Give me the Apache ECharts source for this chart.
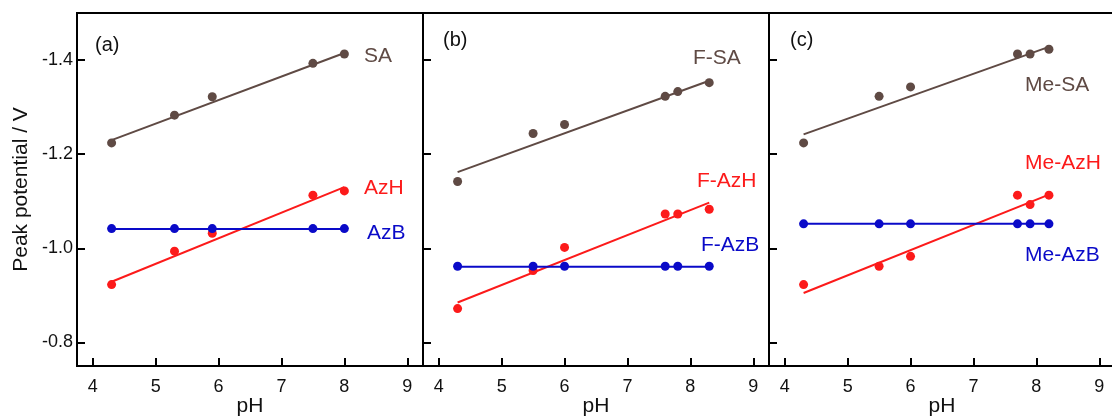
<!DOCTYPE html>
<html>
<head>
<meta charset="utf-8">
<script src="https://cdn.jsdelivr.net/npm/echarts@6/dist/echarts.min.js"></script>
<style>
  html, body { margin: 0; background: #fff; }
  #main { width: 1112px; height: 419px; }
</style>
</head>
<body>
<div id="main"></div>
<script>
// tick labels
const phTicks = [4, 5, 6, 7, 8, 9];
const potTicks = [-1.4, -1.2, -1.0, -0.8];

// (a) SA / AzH / AzB
const phA = [4.3, 5.3, 5.9, 7.5, 8.0];
const saA = [-1.224, -1.283, -1.322, -1.393, -1.413];
const azhA = [-0.923, -0.994, -1.032, -1.113, -1.122];
const azbA = [-1.042, -1.042, -1.042, -1.042, -1.042];
const fitPhA = [4.3, 8.0];
const saFitA = [-1.230, -1.415];
const azhFitA = [-0.929, -1.130];
const azbFitA = [-1.041, -1.041];

// (b) F-SA / F-AzH / F-AzB
const phB = [4.3, 5.5, 6.0, 7.6, 7.8, 8.3];
const saB = [-1.142, -1.244, -1.263, -1.323, -1.333, -1.352];
const azhB = [-0.872, -0.953, -1.002, -1.073, -1.073, -1.083];
const azbB = [-0.962, -0.962, -0.962, -0.962, -0.962, -0.962];
const fitPhB = [4.3, 8.3];
const saFitB = [-1.162, -1.356];
const azhFitB = [-0.885, -1.097];
const azbFitB = [-0.961, -0.961];

// (c) Me-SA / Me-AzH / Me-AzB
const phC = [4.3, 5.5, 6.0, 7.7, 7.9, 8.2];
const saC = [-1.224, -1.323, -1.343, -1.413, -1.413, -1.423];
const azhC = [-0.923, -0.962, -0.983, -1.113, -1.093, -1.113];
const azbC = [-1.052, -1.052, -1.052, -1.052, -1.052, -1.052];
const fitPhC = [4.3, 8.2];
const saFitC = [-1.242, -1.428];
const azhFitC = [-0.905, -1.114];
const azbFitC = [-1.052, -1.052];

const panelNames = ['(a)', '(b)', '(c)'];
const seriesNames = [
  ['SA', 'AzH', 'AzB'],
  ['F-SA', 'F-AzH', 'F-AzB'],
  ['Me-SA', 'Me-AzH', 'Me-AzB']
];

const FONT = '"Liberation Sans", Arial, sans-serif';
const BROWN = '#5f4a44', RED = '#fc1a1a', BLUE = '#0a0ac8';
const colors = [BROWN, RED, BLUE];

const panels = [
  { ph: phA, ys: [saA, azhA, azbA], fitPh: fitPhA, fits: [saFitA, azhFitA, azbFitA] },
  { ph: phB, ys: [saB, azhB, azbB], fitPh: fitPhB, fits: [saFitB, azhFitB, azbFitB] },
  { ph: phC, ys: [saC, azhC, azbC], fitPh: fitPhC, fits: [saFitC, azhFitC, azbFitC] }
];

const lefts = [77, 423, 769];
const zip = (xs, ys) => xs.map((x, i) => [x, ys[i]]);

const grid = lefts.map(l => ({
  left: l, top: 13, width: 346, height: 353,
  outerBoundsMode: 'none',
  show: true, borderColor: '#000', borderWidth: 2
}));

const xAxis = lefts.map((l, i) => ({
  type: 'value', gridIndex: i, min: 3.75, max: 9.25,
  axisLine: { lineStyle: { color: '#000', width: 2 } },
  axisTick: { inside: true, length: 8, customValues: phTicks, lineStyle: { color: '#000', width: 2 } },
  axisLabel: { customValues: phTicks, color: '#111', fontSize: 18, fontFamily: FONT, margin: 12 },
  splitLine: { show: false },
  name: 'pH', nameLocation: 'middle', nameGap: 30, nameMoveOverlap: false,
  nameTextStyle: { color: '#111', fontSize: 21, fontFamily: FONT }
}));

const yAxis = lefts.map((l, i) => ({
  type: 'value', gridIndex: i, inverse: true, min: -1.5, max: -0.75,
  axisLine: { lineStyle: { color: '#000', width: 2 } },
  axisTick: { inside: true, length: 8, customValues: potTicks, lineStyle: { color: '#000', width: 2 } },
  axisLabel: {
    show: i === 0, customValues: potTicks, color: '#111', fontSize: 18, fontFamily: FONT, margin: 4,
    formatter: v => v.toFixed(1)
  },
  splitLine: { show: false },
  name: i === 0 ? 'Peak potential / V' : '', nameLocation: 'middle', nameGap: 45, nameMoveOverlap: false,
  nameTextStyle: { color: '#111', fontSize: 21, fontFamily: FONT }
}));

const series = [];
panels.forEach((p, i) => {
  p.fits.forEach((f, k) => {
    series.push({
      type: 'line', xAxisIndex: i, yAxisIndex: i, data: zip(p.fitPh, f),
      showSymbol: false, lineStyle: { color: colors[k], width: 2 }, z: 2
    });
  });
  p.ys.forEach((ys, k) => {
    series.push({
      type: 'scatter', xAxisIndex: i, yAxisIndex: i, data: zip(p.ph, ys),
      symbol: 'circle', symbolSize: 9, itemStyle: { color: colors[k], opacity: 1 }, z: 3 + k
    });
  });
});

// label positions (pixels)
const panelLabelPos = [[95, 45], [443, 40], [790, 40]];
const seriesLabelPos = [
  [[364, 56], [364, 188], [367, 233]],
  [[693, 58], [697, 181], [701, 245]],
  [[1025, 85], [1025, 163], [1025, 255]]
];

const graphic = [];
panelNames.forEach((t, i) => {
  graphic.push({
    type: 'text', x: panelLabelPos[i][0], y: panelLabelPos[i][1],
    style: { text: t, fill: '#111', font: '20px ' + FONT, textAlign: 'left', textVerticalAlign: 'middle' }
  });
  seriesNames[i].forEach((t2, k) => {
    graphic.push({
      type: 'text', x: seriesLabelPos[i][k][0], y: seriesLabelPos[i][k][1],
      style: { text: t2, fill: colors[k], font: '21px ' + FONT, textAlign: 'left', textVerticalAlign: 'middle' }
    });
  });
});

const chart = echarts.init(document.getElementById('main'), null, { renderer: 'canvas' });
chart.setOption({
  animation: false,
  grid, xAxis, yAxis, series, graphic
});
</script>
</body>
</html>
